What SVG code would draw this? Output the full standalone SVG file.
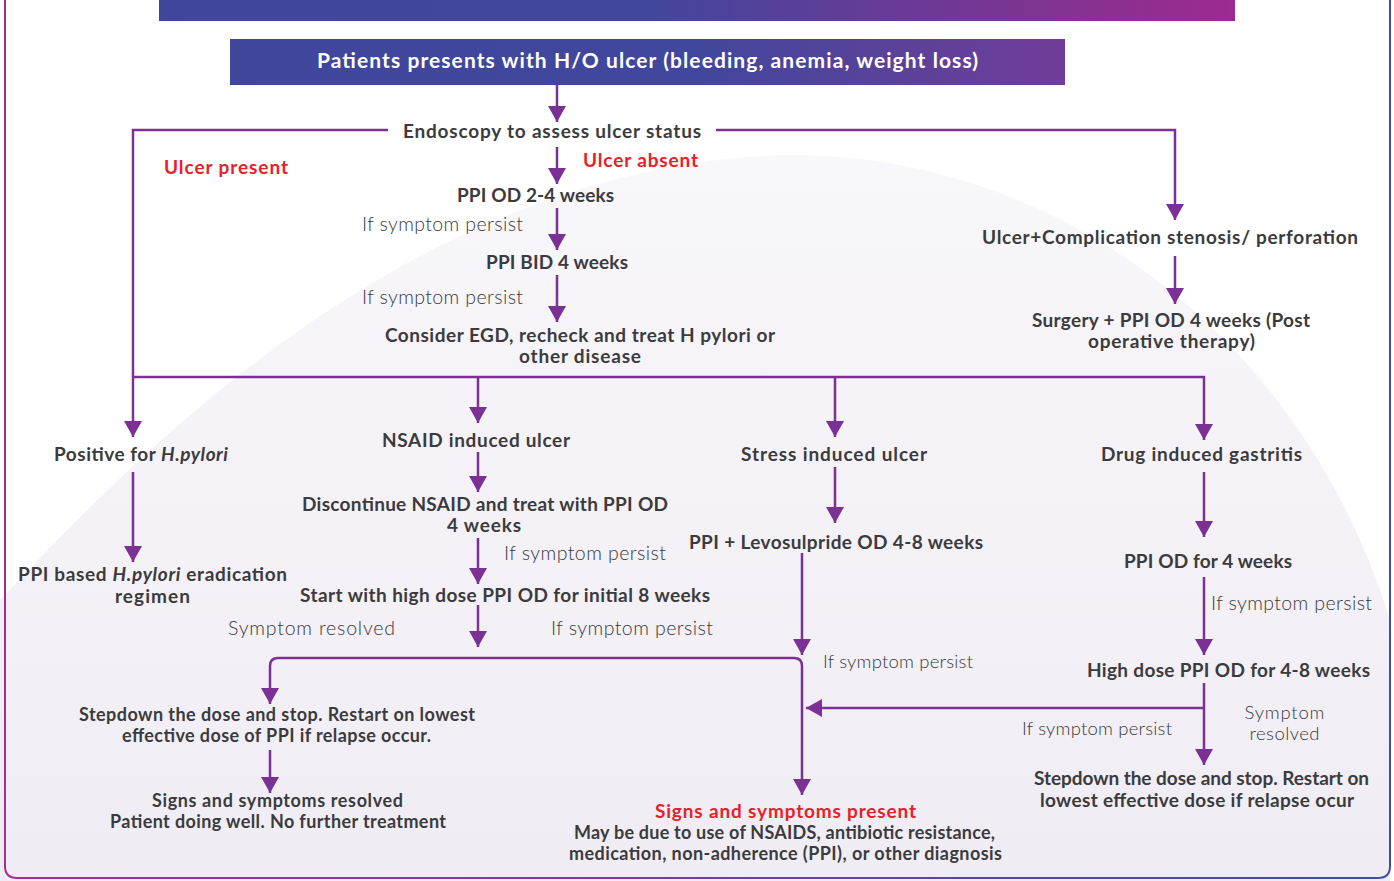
<svg xmlns="http://www.w3.org/2000/svg" width="1394" height="881" viewBox="0 0 1394 881">
<defs>
<linearGradient id="gBanner" x1="0" y1="0" x2="1" y2="0">
<stop offset="0" stop-color="#3f469c"/><stop offset="0.45" stop-color="#40479c"/><stop offset="1" stop-color="#9e2a8e"/>
</linearGradient>
<linearGradient id="gTitle" x1="0" y1="0" x2="1" y2="0">
<stop offset="0" stop-color="#3f469c"/><stop offset="0.55" stop-color="#40479c"/><stop offset="1" stop-color="#703d98"/>
</linearGradient>
<linearGradient id="gFrame" x1="0" y1="0" x2="1" y2="0">
<stop offset="0" stop-color="#a22f97"/><stop offset="1" stop-color="#3e4fa2"/>
</linearGradient>
<linearGradient id="gBg" x1="0" y1="0" x2="0" y2="1">
<stop offset="0" stop-color="#f8f7fa"/><stop offset="1" stop-color="#f0ecf4"/>
</linearGradient>
<marker id="ah" viewBox="0 0 16 18" refX="16" refY="9" markerWidth="16" markerHeight="18" markerUnits="userSpaceOnUse" orient="auto">
<path d="M0,0 L16,9 L0,18 Z" fill="#7b3194"/>
</marker>
<style>
.ln{fill:none;stroke:#7b3194;stroke-width:2.5}
text{font-family:"Lato","Open Sans","Liberation Sans",sans-serif;text-anchor:middle}
.b{font-weight:700;font-size:19px;fill:#3b3b3d}
.b2{font-weight:700;font-size:18px;fill:#3b3b3d}
.r{font-weight:700;font-size:19px;fill:#e8202a}
.l{font-weight:300;font-size:19.5px;fill:#38383a}
.l2{font-weight:300;font-size:18.5px;fill:#38383a}
.t{font-weight:700;font-size:21px;fill:#ffffff}
</style>
</defs>
<rect x="0" y="0" width="1394" height="881" fill="#ffffff"/>
<path d="M0,600 C160,430 420,170 780,155 C1050,150 1300,330 1390,620 L1390,881 L0,881 Z" fill="url(#gBg)"/>
<path d="M5,0 L5,866 Q5,878 17,878 L1378,878 Q1390,878 1390,866 L1390,0" fill="none" stroke="url(#gFrame)" stroke-width="2"/>
<rect x="159" y="0" width="1076" height="21" fill="url(#gBanner)"/>

<g id="connectors">
<path class="ln" d="M557,85 V122" marker-end="url(#ah)"/>
<path class="ln" d="M388,130 H133 V437" marker-end="url(#ah)"/>
<path class="ln" d="M716,130 H1175 V220" marker-end="url(#ah)"/>
<path class="ln" d="M557,147 V184" marker-end="url(#ah)"/>
<path class="ln" d="M557,208 V250" marker-end="url(#ah)"/>
<path class="ln" d="M557,275 V322" marker-end="url(#ah)"/>
<path class="ln" d="M1175,256 V304" marker-end="url(#ah)"/>
<path class="ln" d="M133,377 H1204 V440" marker-end="url(#ah)"/>
<path class="ln" d="M478,377 V423" marker-end="url(#ah)"/>
<path class="ln" d="M835,377 V437" marker-end="url(#ah)"/>
<path class="ln" d="M133,472 V562" marker-end="url(#ah)"/>
<path class="ln" d="M478,452 V492" marker-end="url(#ah)"/>
<path class="ln" d="M478,538 V584" marker-end="url(#ah)"/>
<path class="ln" d="M478,605 V647" marker-end="url(#ah)"/>
<path class="ln" d="M835,467 V523" marker-end="url(#ah)"/>
<path class="ln" d="M802,553 V655" marker-end="url(#ah)"/>
<path class="ln" d="M270,703 V666 Q270,658 278,658 H794 Q802,658 802,666 V795" marker-end="url(#ah)"/>
<path class="ln" d="M270,703 V704" marker-end="url(#ah)"/>
<path class="ln" d="M270,750 V793" marker-end="url(#ah)"/>
<path class="ln" d="M1204,472 V537" marker-end="url(#ah)"/>
<path class="ln" d="M1204,577 V655" marker-end="url(#ah)"/>
<path class="ln" d="M1204,683 V765" marker-end="url(#ah)"/>
<path class="ln" d="M1204,708 H806" marker-end="url(#ah)"/>
</g>

<g id="title"><rect x="230" y="39" width="835" height="46" fill="url(#gTitle)"/><text class="t" x="647.5" y="68" textLength="661" lengthAdjust="spacing">Patients presents with H/O ulcer (bleeding, anemia, weight loss)</text></g>
<g id="endoscopy"><text class="b" x="552" y="138" textLength="298" lengthAdjust="spacing">Endoscopy to assess ulcer status</text></g>
<g id="ulcer-present"><text class="r" x="226" y="174" textLength="124" lengthAdjust="spacing">Ulcer present</text></g>
<g id="ulcer-absent"><text class="r" x="640.5" y="167" textLength="115" lengthAdjust="spacing">Ulcer absent</text></g>
<g id="ppi-od"><text class="b" x="535.5" y="202" textLength="157" lengthAdjust="spacing">PPI OD 2-4 weeks</text></g>
<g id="lbl1"><text class="l" x="442.5" y="231" textLength="161" lengthAdjust="spacing">If symptom persist</text></g>
<g id="ppi-bid"><text class="b" x="557" y="269" textLength="142" lengthAdjust="spacing">PPI BID 4 weeks</text></g>
<g id="lbl2"><text class="l" x="442.5" y="304" textLength="161" lengthAdjust="spacing">If symptom persist</text></g>
<g id="egd"><text class="b" x="580" y="342" textLength="390" lengthAdjust="spacing">Consider EGD, recheck and treat H pylori or</text><text class="b" x="580" y="363" textLength="122" lengthAdjust="spacing">other disease</text></g>
<g id="complication"><text class="b" x="1170" y="244" textLength="376" lengthAdjust="spacing">Ulcer+Complication stenosis/ perforation</text></g>
<g id="surgery"><text class="b" x="1171" y="327" textLength="278" lengthAdjust="spacing">Surgery + PPI OD 4 weeks (Post</text><text class="b" x="1171.5" y="348" textLength="167" lengthAdjust="spacing">operative therapy)</text></g>
<g id="hpylori"><text class="b" x="141" y="461" textLength="174" lengthAdjust="spacing">Positive for <tspan font-style="italic">H.pylori</tspan></text></g>
<g id="eradication"><text class="b" x="152.5" y="581" textLength="269" lengthAdjust="spacing">PPI based <tspan font-style="italic">H.pylori</tspan> eradication</text><text class="b" x="152.5" y="603" textLength="75" lengthAdjust="spacing">regimen</text></g>
<g id="nsaid"><text class="b" x="476" y="447" textLength="188" lengthAdjust="spacing">NSAID induced ulcer</text></g>
<g id="discontinue"><text class="b" x="485" y="511" textLength="366" lengthAdjust="spacing">Discontinue NSAID and treat with PPI OD</text><text class="b" x="484" y="532" textLength="74" lengthAdjust="spacing">4 weeks</text></g>
<g id="lbl3"><text class="l" x="585" y="560" textLength="162" lengthAdjust="spacing">If symptom persist</text></g>
<g id="highdose"><text class="b" x="505" y="602" textLength="410" lengthAdjust="spacing">Start with high dose PPI OD for initial 8 weeks</text></g>
<g id="lbl4"><text class="l" x="311.5" y="635" textLength="167" lengthAdjust="spacing">Symptom resolved</text></g>
<g id="lbl5"><text class="l" x="632" y="635" textLength="162" lengthAdjust="spacing">If symptom persist</text></g>
<g id="stress"><text class="b" x="834" y="461" textLength="186" lengthAdjust="spacing">Stress induced ulcer</text></g>
<g id="levosulpride"><text class="b" x="836" y="549" textLength="294" lengthAdjust="spacing">PPI + Levosulpride OD 4-8 weeks</text></g>
<g id="lbl6"><text class="l2" x="898" y="668" textLength="150" lengthAdjust="spacing">If symptom persist</text></g>
<g id="drug"><text class="b" x="1201.5" y="461" textLength="201" lengthAdjust="spacing">Drug induced gastritis</text></g>
<g id="ppi-od4"><text class="b" x="1208" y="568" textLength="168" lengthAdjust="spacing">PPI OD for 4 weeks</text></g>
<g id="lbl7"><text class="l" x="1291.5" y="610" textLength="161" lengthAdjust="spacing">If symptom persist</text></g>
<g id="highdose2"><text class="b" x="1228.5" y="677" textLength="283" lengthAdjust="spacing">High dose PPI OD for 4-8 weeks</text></g>
<g id="lbl8"><text class="l2" x="1097" y="735" textLength="150" lengthAdjust="spacing">If symptom persist</text></g>
<g id="lbl9"><text class="l2" x="1284.5" y="719" textLength="80" lengthAdjust="spacing">Symptom</text><text class="l2" x="1284.5" y="740" textLength="70" lengthAdjust="spacing">resolved</text></g>
<g id="stepdown2"><text class="b" x="1201.5" y="785" textLength="335" lengthAdjust="spacing">Stepdown the dose and stop. Restart on</text><text class="b" x="1197" y="807" textLength="314" lengthAdjust="spacing">lowest effective dose if relapse ocur</text></g>
<g id="stepdown1"><text class="b2" x="277" y="721" textLength="396" lengthAdjust="spacing">Stepdown the dose and stop. Restart on lowest</text><text class="b2" x="276.5" y="742" textLength="309" lengthAdjust="spacing">effective dose of PPI if relapse occur.</text></g>
<g id="resolved"><text class="b2" x="277.5" y="807" textLength="251" lengthAdjust="spacing">Signs and symptoms resolved</text><text class="b2" x="278" y="828" textLength="336" lengthAdjust="spacing">Patient doing well. No further treatment</text></g>
<g id="present"><text class="r" x="785.5" y="818" textLength="261" lengthAdjust="spacing">Signs and symptoms present</text><text class="b2" x="784.5" y="839" textLength="421" lengthAdjust="spacing">May be due to use of NSAIDS, antibiotic resistance,</text><text class="b2" x="785.5" y="860" textLength="433" lengthAdjust="spacing">medication, non-adherence (PPI), or other diagnosis</text></g>
</svg>
